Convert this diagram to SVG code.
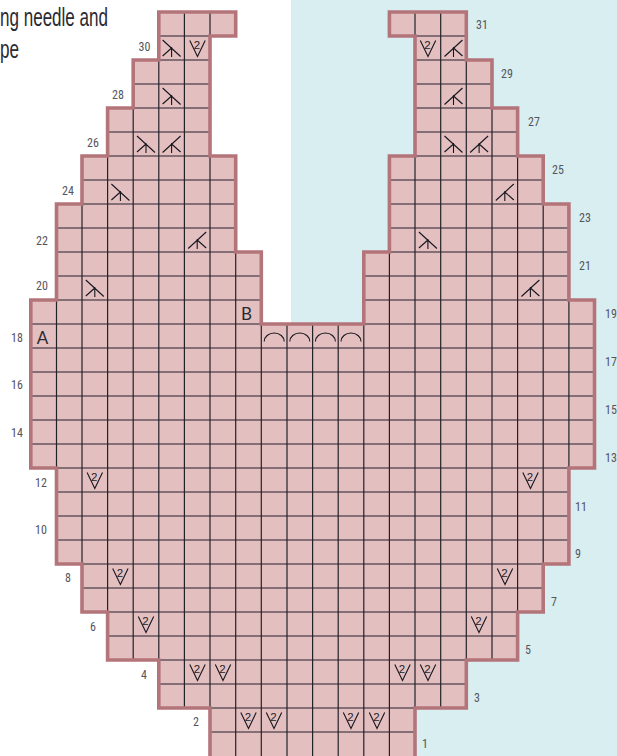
<svg xmlns="http://www.w3.org/2000/svg" xmlns:xlink="http://www.w3.org/1999/xlink" width="617" height="756" viewBox="0 0 617 756">
<style>
.n{font-family:"Liberation Sans Narrow","Roboto Condensed","Liberation Sans",sans-serif;font-size:12px;fill:#55555c;text-anchor:middle}
.h{font-family:"Liberation Sans Narrow","Liberation Sans",sans-serif;font-size:25px;fill:#2a2a32}
.l{font-family:"Lato","Liberation Sans",sans-serif;font-size:17px;fill:#2a2a32;text-anchor:middle}
.g{fill:none;stroke:#22212a;stroke-width:1.2}
.s{fill:none;stroke:#16161e;stroke-width:1.1}
.t{font-family:"Liberation Sans Narrow","Liberation Sans",sans-serif;font-size:11.5px;fill:#1e1e26;text-anchor:middle}
</style>
<defs>
<path id="o" d="M158.8,12H235.7V36H210V156H235.7V252H261.3V324H363.8V252H389.4V156H415V36H389.4V12H466.3V60H492V108H517.6V156H543.2V204H568.9V300H594.5V468H568.9V564H543.2V612H517.6V660H466.3V708H415V772H210V708H158.8V660H107.6V612H82V564H56.5V468H30.8V300H56.5V204H82V156H107.6V108H133.2V60H158.8Z"/>
<clipPath id="c"><use xlink:href="#o" href="#o"/></clipPath>
<g id="ls" class="s"><path d="M-9,-8L9,8.5M0,0L-9,8M0,-1V9"/></g>
<g id="rs" class="s"><path d="M9,-8L-9,8.5M0,0L9,8M0,-1V9"/></g>
<g id="v"><path class="s" d="M-7.7,-7.5L0,8.5L7.7,-7.5"/><text class="t" x="-0.5" y="0.5">2</text></g>
<path id="a" class="s" d="M-10,5.5A10,8.5 0 0 1 10,5.5"/>
</defs>
<rect x="0" y="0" width="617" height="756" fill="#fff"/>
<rect x="291" y="0" width="326" height="756" fill="#d9eef0"/>
<use xlink:href="#o" href="#o" fill="#e4bfc0"/>
<g id="grid" clip-path="url(#c)">
<path class="g" d="M0,36H617M0,60H617M0,84H617M0,108H617M0,132H617M0,156H617M0,180H617M0,204H617M0,228H617M0,252H617M0,276H617M0,300H617M0,324H617M0,348H617M0,372H617M0,396H617M0,420H617M0,444H617M0,468H617M0,492H617M0,516H617M0,540H617M0,564H617M0,588H617M0,612H617M0,636H617M0,660H617M0,684H617M0,708H617M0,732H617"/>
<path class="g" d="M56.5,0V772M82,0V772M107.6,0V772M133.2,0V772M158.8,0V772M184.4,0V772M210,0V772M235.7,0V772M261.3,0V772M287,0V772M312.6,0V772M338.2,0V772M363.8,0V772M389.4,0V772M415,0V772M440.7,0V772M466.3,0V772M492,0V772M517.6,0V772M543.2,0V772M568.9,0V772"/>
</g>
<use id="outline" xlink:href="#o" href="#o" fill="none" stroke="#b3747a" stroke-width="3.6"/>
<g id="symbols">
<use href="#ls" x="171.6" y="48"/><use href="#ls" x="171.6" y="96"/><use href="#ls" x="146" y="144"/><use href="#rs" x="171.6" y="144"/>
<use href="#ls" x="120.4" y="192"/><use href="#rs" x="197.2" y="240"/><use href="#ls" x="94.8" y="288"/>
<use href="#rs" x="453.5" y="48"/><use href="#rs" x="453.5" y="96"/><use href="#ls" x="453.5" y="144"/><use href="#rs" x="479.1" y="144"/>
<use href="#rs" x="504.8" y="192"/><use href="#ls" x="427.9" y="240"/><use href="#rs" x="530.4" y="288"/>
<use href="#v" x="197.5" y="48"/><use href="#v" x="94.8" y="480"/><use href="#v" x="120.4" y="576"/><use href="#v" x="146" y="624"/><use href="#v" x="197.5" y="672"/><use href="#v" x="223" y="672"/><use href="#v" x="248.5" y="720"/><use href="#v" x="274" y="720"/>
<use href="#v" x="351" y="720"/><use href="#v" x="377" y="720"/><use href="#v" x="402.5" y="672"/><use href="#v" x="428" y="672"/><use href="#v" x="479" y="624"/><use href="#v" x="505" y="576"/><use href="#v" x="530.5" y="480"/><use href="#v" x="428" y="48"/>
<use href="#a" x="274.2" y="336"/><use href="#a" x="299.8" y="336"/><use href="#a" x="325.4" y="336"/><use href="#a" x="351" y="336"/>
</g>
<g id="labels">
<text class="n" x="482" y="29">31</text><text class="n" x="144.5" y="51">30</text><text class="n" x="507" y="78">29</text><text class="n" x="118" y="99">28</text><text class="n" x="534" y="126">27</text><text class="n" x="93" y="147">26</text><text class="n" x="558" y="174">25</text><text class="n" x="68" y="195">24</text><text class="n" x="585" y="222">23</text><text class="n" x="42" y="245">22</text><text class="n" x="585" y="270">21</text><text class="n" x="42" y="290">20</text><text class="n" x="611" y="318">19</text><text class="n" x="17" y="342">18</text><text class="n" x="611" y="366">17</text><text class="n" x="17" y="389">16</text><text class="n" x="611" y="414">15</text><text class="n" x="17" y="437">14</text><text class="n" x="611" y="462">13</text><text class="n" x="41" y="487">12</text><text class="n" x="581" y="511">11</text><text class="n" x="41" y="534">10</text><text class="n" x="578" y="558">9</text><text class="n" x="68" y="582">8</text><text class="n" x="554" y="606">7</text><text class="n" x="93" y="631">6</text><text class="n" x="528" y="654">5</text><text class="n" x="144" y="679">4</text><text class="n" x="477" y="702">3</text><text class="n" x="196" y="726">2</text><text class="n" x="425" y="748">1</text>
<text class="l" x="42.5" y="343.5">A</text><text class="l" x="246.5" y="319.5">B</text>
<text class="h" x="0" y="26" textLength="108" lengthAdjust="spacingAndGlyphs">ng needle and</text>
<text class="h" x="0" y="58" textLength="19" lengthAdjust="spacingAndGlyphs">pe</text>
</g>
</svg>
